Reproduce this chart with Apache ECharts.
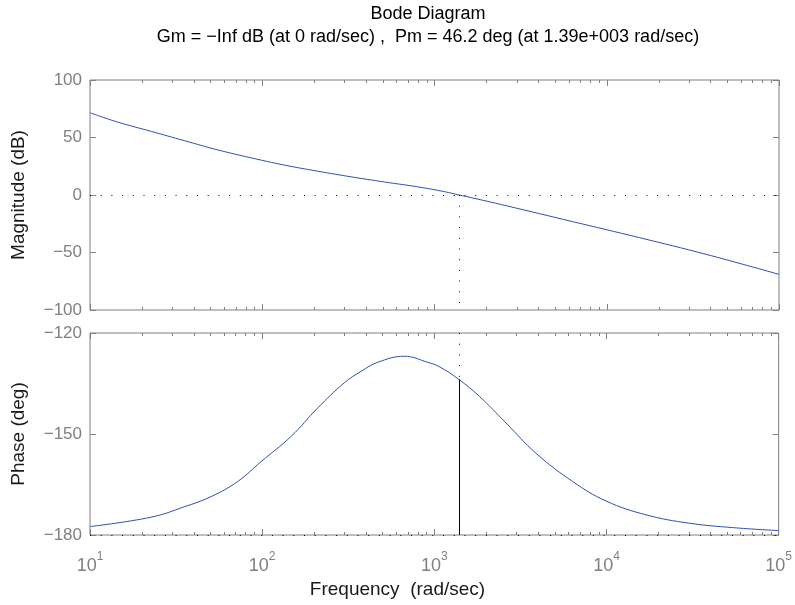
<!DOCTYPE html>
<html>
<head>
<meta charset="utf-8">
<script src="https://cdn.jsdelivr.net/npm/echarts@6/dist/echarts.min.js"></script>
<style>
  html, body { margin: 0; padding: 0; background: #ffffff; }
  #chart { width: 795px; height: 605px; }
</style>
</head>
<body>
<div id="chart"></div>
<script>
// Open-loop frequency response samples (rad/sec)
const magFreq = [10, 14.4, 22.7, 35.4, 55.2, 86.3, 134.6, 210, 328, 513, 800, 1143, 1390, 1528, 2606, 6353, 15490, 37760, 100000];
const magDb   = [71.5, 63.5, 55.3, 47.2, 39.2, 32.3, 26.0, 20.7, 15.8, 11.3, 7.1, 2.9, 0, -1.3, -9.3, -23.2, -37.1, -51.6, -69.0];

const phaseFreq = [10, 22.7, 35.4, 50.5, 72.1, 98.6, 147.3, 210, 300, 375, 469, 670, 914, 1069, 1390, 1825, 2606, 3890, 6353, 9930, 16940, 30270, 53950, 100000];
const phaseDeg  = [-177.5, -174.7, -171.6, -168.6, -164.1, -158.2, -150.7, -142.3, -134.8, -131.4, -128.7, -126.9, -128.7, -130.0, -133.8, -138.8, -146.7, -155.7, -164.1, -169.9, -174.0, -176.5, -177.8, -178.7];

// Stability margins
const gainCrossoverFreq = 1390;   // rad/sec
const phaseMargin = 46.2;         // deg
const phaseAtCrossover = -180 + phaseMargin;

const titleLines = [
  'Bode Diagram',
  'Gm = \u2212Inf dB (at 0 rad/sec) ,  Pm = 46.2 deg (at 1.39e+003 rad/sec)'
];
const magLabel = 'Magnitude (dB)';
const phaseLabel = 'Phase (deg)';
const freqLabel = 'Frequency  (rad/sec)';

const freqRange = [10, 100000];
const magRange = [-100, 100];
const magStep = 50;
const phaseRange = [-180, -120];
const phaseStep = 30;

// Minor log ticks at 2..9 x 10^k
const minorFreqs = [];
for (let d = 10; d < freqRange[1]; d *= 10) {
  for (let m = 2; m <= 9; m++) minorFreqs.push(m * d);
}

const FONT = '"Liberation Sans", Arial, Helvetica, sans-serif';
const frameColor = '#808080';
const lineColor = '#2f50b4';
const dotted = [1, 9.7];

const zip = (xs, ys) => xs.map((x, i) => [x, ys[i]]);
const minus = v => String(v).replace('-', '\u2212');

function xAxisDef(gridIndex, position, withLabels) {
  return {
    type: 'log', logBase: 10, gridIndex, position,
    min: freqRange[0], max: freqRange[1], splitNumber: 4,
    axisLine: { show: false, onZero: false },
    axisTick: { show: true, inside: true, length: 6, lineStyle: { color: frameColor } },
    splitLine: { show: false },
    minorTick: { show: false },
    axisLabel: withLabels ? {
      show: true, margin: 16,
      formatter: v => '{b|10}{s|' + Math.round(Math.log10(v)) + '}',
      rich: {
        b: { fontSize: 18, fontFamily: FONT, color: frameColor, lineHeight: 30 },
        s: { fontSize: 12, fontFamily: FONT, color: frameColor, verticalAlign: 'top', lineHeight: 12 }
      }
    } : { show: false }
  };
}

function yAxisDef(gridIndex, position, range, step, name) {
  return {
    type: 'value', gridIndex, position,
    min: range[0], max: range[1], interval: step,
    axisLine: { show: false, onZero: false },
    axisTick: { show: true, inside: true, length: 6, lineStyle: { color: frameColor } },
    splitLine: { show: false },
    axisLabel: name ? {
      show: true, margin: 8, fontSize: 17, fontFamily: FONT, color: frameColor,
      formatter: minus
    } : { show: false },
    name: name || '',
    nameLocation: 'middle',
    nameGap: 62,
    nameTextStyle: { fontSize: 19, fontFamily: FONT, color: '#1a1a1a' }
  };
}

function minorTickSeries(xi, yi, yMin, yMax) {
  return {
    type: 'custom', xAxisIndex: xi, yAxisIndex: yi, silent: true, animation: false,
    data: minorFreqs.map(f => [f, yMin]),
    renderItem: (params, api) => {
      const f = api.value(0);
      const b = api.coord([f, yMin]);
      const t = api.coord([f, yMax]);
      const x = Math.round(b[0]) + 0.5;
      const style = { stroke: frameColor, lineWidth: 1 };
      return {
        type: 'group',
        children: [
          { type: 'line', shape: { x1: x, y1: b[1], x2: x, y2: b[1] - 3 }, style },
          { type: 'line', shape: { x1: x, y1: t[1], x2: x, y2: t[1] + 3 }, style }
        ]
      };
    }
  };
}

const chart = echarts.init(document.getElementById('chart'), null, { renderer: 'canvas' });

chart.setOption({
  animation: false,
  backgroundColor: '#ffffff',
  title: {
    text: titleLines.join('\n'),
    left: 423, top: -2, textAlign: 'center',
    textStyle: { fontSize: 18, fontWeight: 'normal', fontFamily: FONT, color: '#000000', lineHeight: 23 }
  },
  graphic: [{
    type: 'text', left: 'center', top: 580,
    x: -8,
    style: { text: freqLabel, fontSize: 19, fontFamily: FONT, fill: '#1a1a1a', textAlign: 'center' }
  }],
  grid: [
    { left: 90, top: 80, width: 689, height: 230, show: true, borderColor: frameColor, borderWidth: 1, backgroundColor: '#ffffff' },
    { left: 90, top: 333, width: 689, height: 202, show: true, borderColor: frameColor, borderWidth: 1, backgroundColor: '#ffffff' }
  ],
  xAxis: [
    xAxisDef(0, 'bottom', false),
    xAxisDef(0, 'top', false),
    xAxisDef(1, 'bottom', true),
    xAxisDef(1, 'top', false)
  ],
  yAxis: [
    yAxisDef(0, 'left', magRange, magStep, magLabel),
    yAxisDef(0, 'right', magRange, magStep, null),
    yAxisDef(1, 'left', phaseRange, phaseStep, phaseLabel),
    yAxisDef(1, 'right', phaseRange, phaseStep, null)
  ],
  series: [
    minorTickSeries(0, 0, magRange[0], magRange[1]),
    minorTickSeries(2, 2, phaseRange[0], phaseRange[1]),
    {
      name: 'Magnitude', type: 'line', xAxisIndex: 0, yAxisIndex: 0,
      data: zip(magFreq, magDb),
      showSymbol: false, smooth: 0.4,
      lineStyle: { color: lineColor, width: 1 },
      markLine: {
        silent: true, symbol: ['none', 'none'], label: { show: false },
        lineStyle: { color: '#000000', width: 1, type: dotted },
        data: [
          { yAxis: 0 },
          [{ coord: [gainCrossoverFreq, 0] }, { coord: [gainCrossoverFreq, magRange[0]] }]
        ]
      },
      z: 3
    },
    {
      name: 'Phase', type: 'line', xAxisIndex: 2, yAxisIndex: 2,
      data: zip(phaseFreq, phaseDeg),
      showSymbol: false, smooth: 0.4,
      lineStyle: { color: lineColor, width: 1 },
      markLine: {
        silent: true, symbol: ['none', 'none'], label: { show: false },
        lineStyle: { color: '#000000', width: 1, type: dotted },
        data: [
          { yAxis: -180 },
          [{ coord: [gainCrossoverFreq, phaseRange[1]] }, { coord: [gainCrossoverFreq, phaseAtCrossover] }],
          [{ coord: [gainCrossoverFreq, phaseAtCrossover], lineStyle: { type: 'solid', color: '#000000', width: 1 } },
           { coord: [gainCrossoverFreq, phaseRange[0]] }]
        ]
      },
      z: 3
    }
  ]
});
</script>
</body>
</html>
